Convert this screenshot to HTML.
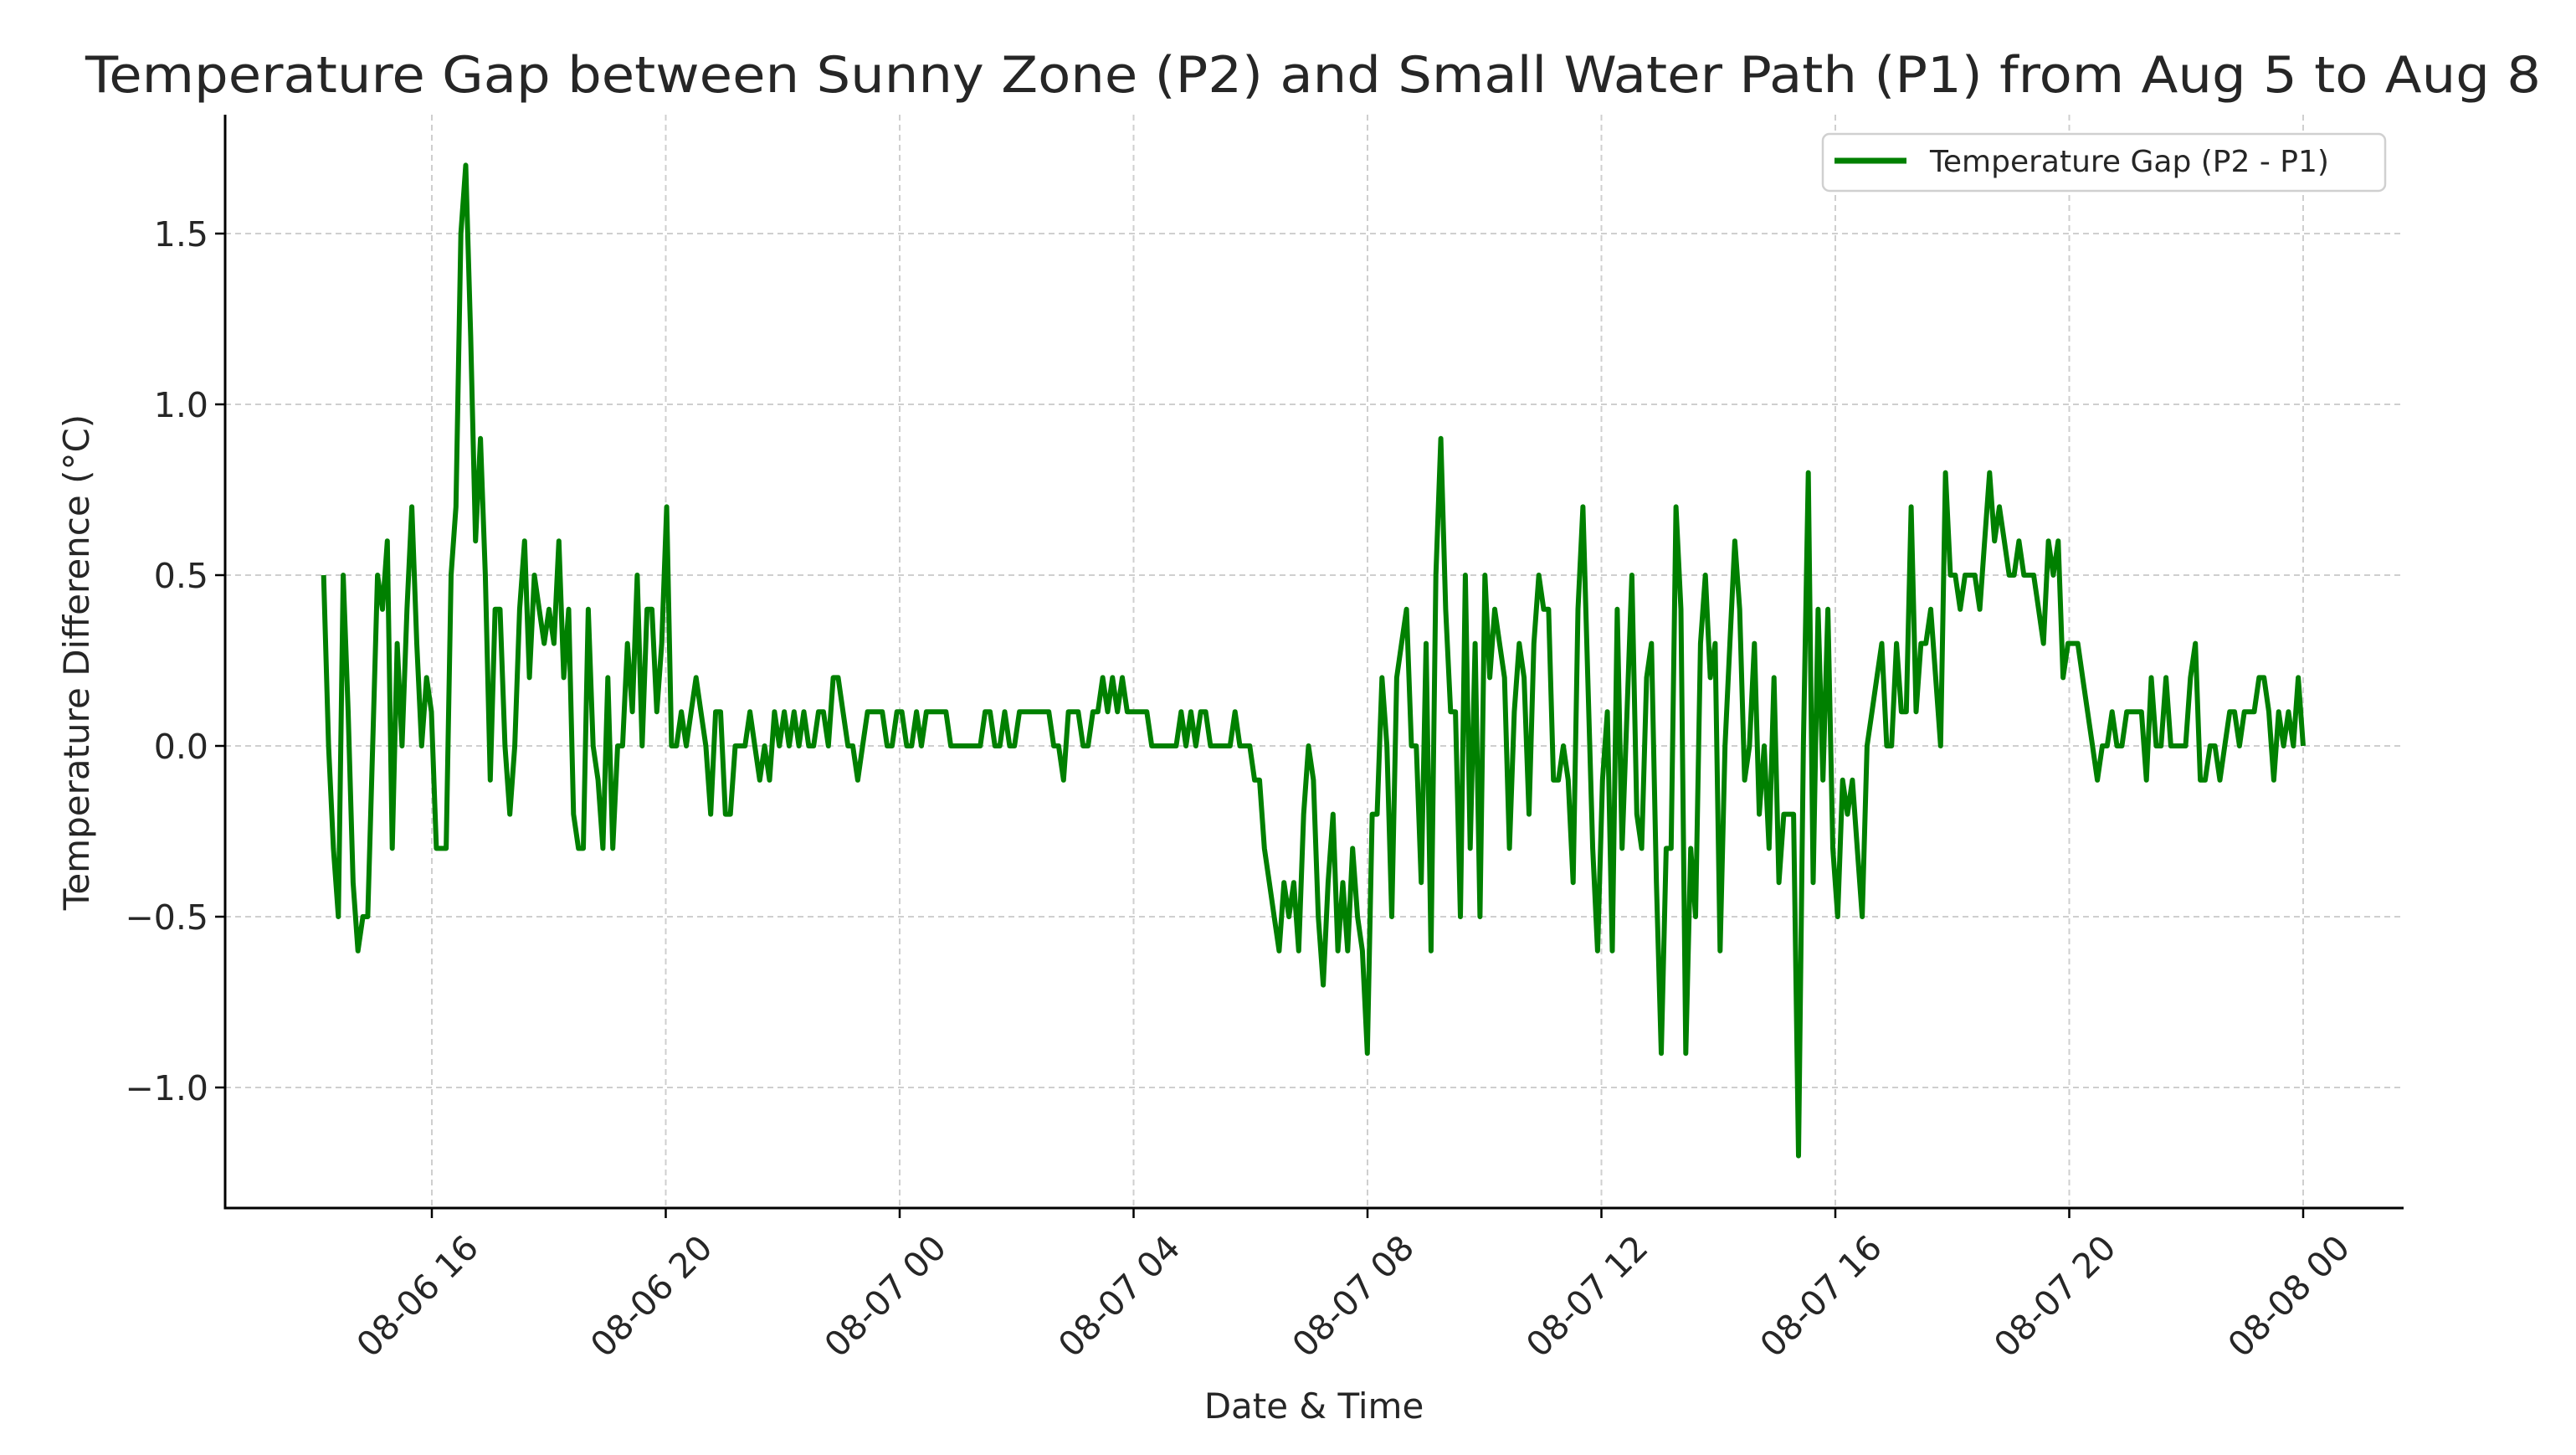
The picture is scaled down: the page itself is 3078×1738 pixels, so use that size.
<!DOCTYPE html>
<html>
<head>
<meta charset="utf-8">
<style>
html,body{margin:0;padding:0;background:#fff;}
svg{display:block;}
text{font-family:"DejaVu Sans","Liberation Sans",sans-serif;fill:#262626;}
</style>
</head>
<body>
<svg id="chart" width="3078" height="1738" viewBox="0 0 3078 1738" xmlns="http://www.w3.org/2000/svg">
  <rect x="0" y="0" width="3078" height="1738" fill="#fff"/>
  <text x="1569" y="110" text-anchor="middle" font-size="60" textLength="2934" lengthAdjust="spacingAndGlyphs">Temperature Gap between Sunny Zone (P2) and Small Water Path (P1) from Aug 5 to Aug 8</text>
  <g id="grid"></g>
  <g id="series"></g>
  <g id="axes"></g>
  <text x="0" y="0" transform="translate(106,791) rotate(-90)" text-anchor="middle" font-size="42">Temperature Difference (°C)</text>
  <text x="1570" y="1694" text-anchor="middle" font-size="42">Date &amp; Time</text>
  <g>
    <rect x="2178" y="160" width="672" height="68" rx="8" fill="#fff" stroke="#d0d0d0" stroke-width="2.5"/>
    <line x1="2192" y1="192" x2="2278" y2="192" stroke="#008000" stroke-width="7"/>
    <text x="2306" y="205" font-size="36">Temperature Gap (P2 - P1)</text>
  </g>
</svg>
<script>
const startHour = 14.15;   // hours since 08-06 00:00
const endHour = 48.0;      // 08-08 00:00
const gapValues = [0.5,0.0,-0.3,-0.5,0.5,0.1,-0.4,-0.6,-0.5,-0.5,0.0,0.5,0.4,0.6,-0.3,0.3,0.0,0.4,0.7,0.3,0.0,0.2,0.1,-0.3,-0.3,-0.3,0.5,0.7,1.5,1.7,1.2,0.6,0.9,0.5,-0.1,0.4,0.4,0.0,-0.2,0.0,0.4,0.6,0.2,0.5,0.4,0.3,0.4,0.3,0.6,0.2,0.4,-0.2,-0.3,-0.3,0.4,0.0,-0.1,-0.3,0.2,-0.3,0.0,0.0,0.3,0.1,0.5,0.0,0.4,0.4,0.1,0.3,0.7,0.0,0.0,0.1,0.0,0.1,0.2,0.1,0.0,-0.2,0.1,0.1,-0.2,-0.2,0.0,0.0,0.0,0.1,0.0,-0.1,0.0,-0.1,0.1,0.0,0.1,0.0,0.1,0.0,0.1,0.0,0.0,0.1,0.1,0.0,0.2,0.2,0.1,0.0,0.0,-0.1,0.0,0.1,0.1,0.1,0.1,0.0,0.0,0.1,0.1,0.0,0.0,0.1,0.0,0.1,0.1,0.1,0.1,0.1,0.0,0.0,0.0,0.0,0.0,0.0,0.0,0.1,0.1,0.0,0.0,0.1,0.0,0.0,0.1,0.1,0.1,0.1,0.1,0.1,0.1,0.0,0.0,-0.1,0.1,0.1,0.1,0.0,0.0,0.1,0.1,0.2,0.1,0.2,0.1,0.2,0.1,0.1,0.1,0.1,0.1,0.0,0.0,0.0,0.0,0.0,0.0,0.1,0.0,0.1,0.0,0.1,0.1,0.0,0.0,0.0,0.0,0.0,0.1,0.0,0.0,0.0,-0.1,-0.1,-0.3,-0.4,-0.5,-0.6,-0.4,-0.5,-0.4,-0.6,-0.2,0.0,-0.1,-0.5,-0.7,-0.4,-0.2,-0.6,-0.4,-0.6,-0.3,-0.5,-0.6,-0.9,-0.2,-0.2,0.2,0.0,-0.5,0.2,0.3,0.4,0.0,0.0,-0.4,0.3,-0.6,0.5,0.9,0.4,0.1,0.1,-0.5,0.5,-0.3,0.3,-0.5,0.5,0.2,0.4,0.3,0.2,-0.3,0.1,0.3,0.2,-0.2,0.3,0.5,0.4,0.4,-0.1,-0.1,0.0,-0.1,-0.4,0.4,0.7,0.2,-0.3,-0.6,-0.1,0.1,-0.6,0.4,-0.3,0.1,0.5,-0.2,-0.3,0.2,0.3,-0.4,-0.9,-0.3,-0.3,0.7,0.4,-0.9,-0.3,-0.5,0.3,0.5,0.2,0.3,-0.6,0.0,0.3,0.6,0.4,-0.1,0.0,0.3,-0.2,0.0,-0.3,0.2,-0.4,-0.2,-0.2,-0.2,-1.2,0.0,0.8,-0.4,0.4,-0.1,0.4,-0.3,-0.5,-0.1,-0.2,-0.1,-0.3,-0.5,0.0,0.1,0.2,0.3,0.0,0.0,0.3,0.1,0.1,0.7,0.1,0.3,0.3,0.4,0.2,0.0,0.8,0.5,0.5,0.4,0.5,0.5,0.5,0.4,0.6,0.8,0.6,0.7,0.6,0.5,0.5,0.6,0.5,0.5,0.5,0.4,0.3,0.6,0.5,0.6,0.2,0.3,0.3,0.3,0.2,0.1,0.0,-0.1,0.0,0.0,0.1,0.0,0.0,0.1,0.1,0.1,0.1,-0.1,0.2,0.0,0.0,0.2,0.0,0.0,0.0,0.0,0.2,0.3,-0.1,-0.1,0.0,0.0,-0.1,0.0,0.1,0.1,0.0,0.1,0.1,0.1,0.2,0.2,0.1,-0.1,0.1,0.0,0.1,0.0,0.2,0.0];
const yTicks = [-1.0,-0.5,0.0,0.5,1.0,1.5];
const yTickLabels = ["\u22121.0","\u22120.5","0.0","0.5","1.0","1.5"];
const xTicks = [16,20,24,28,32,36,40,44,48];
const xTickLabels = ["08-06 16","08-06 20","08-07 00","08-07 04","08-07 08","08-07 12","08-07 16","08-07 20","08-08 00"];

const NS = "http://www.w3.org/2000/svg";
const plotLeft = 269, plotRight = 2872, plotTop = 137, plotBottom = 1443;
function xScale(h){ return 516 + (h - 16) * (2752 - 516) / 32; }
function yScale(v){ return 891 - v * 408; }
function mk(tag, attrs, parent){
  const el = document.createElementNS(NS, tag);
  for (const k in attrs) el.setAttribute(k, attrs[k]);
  parent.appendChild(el);
  return el;
}
const grid = document.getElementById('grid');
const axes = document.getElementById('axes');
const series = document.getElementById('series');

yTicks.forEach((v, i) => {
  const y = yScale(v);
  const g = mk('line', {x1: plotLeft, x2: plotRight, y1: y, y2: y, stroke: '#cfcfcf', 'stroke-width': 2, 'stroke-dasharray': '7,5'}, grid);
  
  
  const t = mk('line', {x1: plotLeft - 12, x2: plotLeft, y1: y, y2: y, stroke: '#000', 'stroke-width': 2.5}, axes);
  
  
  const lab = mk('text', {x: plotLeft - 20, y: y + 15, 'text-anchor': 'end', 'font-size': 41}, axes);
  lab.textContent = yTickLabels[i];
  
  
});
xTicks.forEach((h, i) => {
  const x = xScale(h);
  const g = mk('line', {x1: x, x2: x, y1: plotTop, y2: plotBottom, stroke: '#cfcfcf', 'stroke-width': 2, 'stroke-dasharray': '7,5'}, grid);
  
  
  const t = mk('line', {x1: x, x2: x, y1: plotBottom, y2: plotBottom + 12, stroke: '#000', 'stroke-width': 2.5}, axes);
  
  
  const lab = mk('text', {x: 0, y: 0, 'text-anchor': 'end', 'font-size': 41, transform: 'translate(' + (x + 58) + ',' + (plotBottom + 50) + ') rotate(-45)'}, axes);
  lab.textContent = xTickLabels[i];
  
  
});
const la = mk('line', {x1: plotLeft, x2: plotLeft, y1: plotTop, y2: plotBottom, stroke: '#000', 'stroke-width': 3}, axes);


const ba = mk('line', {x1: plotLeft - 1.5, x2: plotRight, y1: plotBottom, y2: plotBottom, stroke: '#000', 'stroke-width': 3}, axes);



const n = gapValues.length;
const step = (endHour - startHour) / (n - 1);
let d = '';
gapValues.forEach((v, i) => {
  const h = startHour + i * step;
  d += (i ? 'L' : 'M') + xScale(h).toFixed(1) + ',' + yScale(v).toFixed(1);
});
const path = mk('path', {d: d, fill: 'none', stroke: '#008000', 'stroke-width': 6, 'stroke-linejoin': 'round'}, series);


</script>
</body>
</html>
